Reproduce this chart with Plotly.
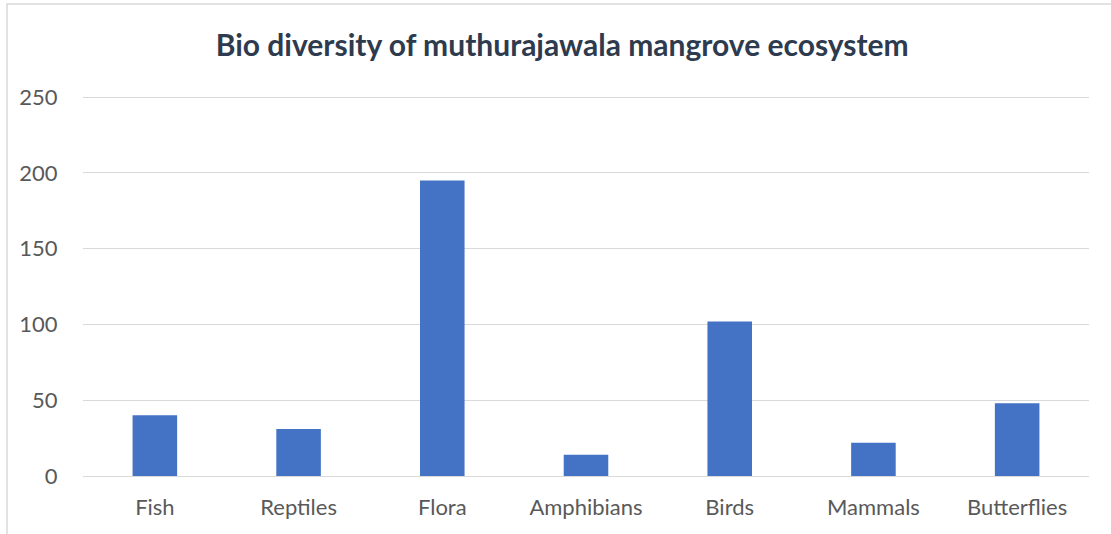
import plotly.graph_objects as go

categories = ["Fish", "Reptiles", "Flora", "Amphibians", "Birds", "Mammals", "Butterflies"]
values = [40, 31, 195, 14, 102, 22, 48]
y_ticks = [0, 50, 100, 150, 200, 250]

fig = go.Figure(go.Bar(x=categories, y=values, marker=dict(color="#4472C4", line=dict(width=0)),
                       hoverinfo="x+y"))

fig.update_layout(
    width=1111, height=534,
    margin=dict(l=83, r=22, t=94, b=58),
    paper_bgcolor="white", plot_bgcolor="white",
    bargap=0.69,
    showlegend=False,
    title=dict(text="<b>Bio diversity of muthurajawala mangrove ecosystem</b>",
               x=0.506, xanchor="center", y=1 - 45 / 534, yanchor="middle", yref="container",
               font=dict(family="Lato", size=30, color="#2E3B4E")),
    font=dict(family="Lato", size=22, color="#595959"),
    xaxis=dict(showgrid=False, showline=True, linecolor="#D9D9D9", linewidth=1,
               ticks="outside", ticklen=12, tickcolor="rgba(0,0,0,0)", tickfont=dict(size=22, color="#595959")),
    yaxis=dict(range=[0, 252], tickvals=y_ticks, showgrid=True, gridcolor="#D9D9D9", gridwidth=1,
               zeroline=False, showline=False, ticks="outside", ticklen=20, tickcolor="rgba(0,0,0,0)",
               tickfont=dict(size=22, color="#595959")),
    shapes=[dict(type="rect", xref="paper", yref="paper", x0=(7 - 83) / 1006, x1=1.2,
                 y0=-0.5, y1=(476 - 4) / 382, line=dict(color="#D9D9D9", width=1.5), layer="below")],
)

fig.write_html("out.html", config={"displayModeBar": False},
               post_script="document.body.style.margin='0';document.body.style.overflow='hidden';")
